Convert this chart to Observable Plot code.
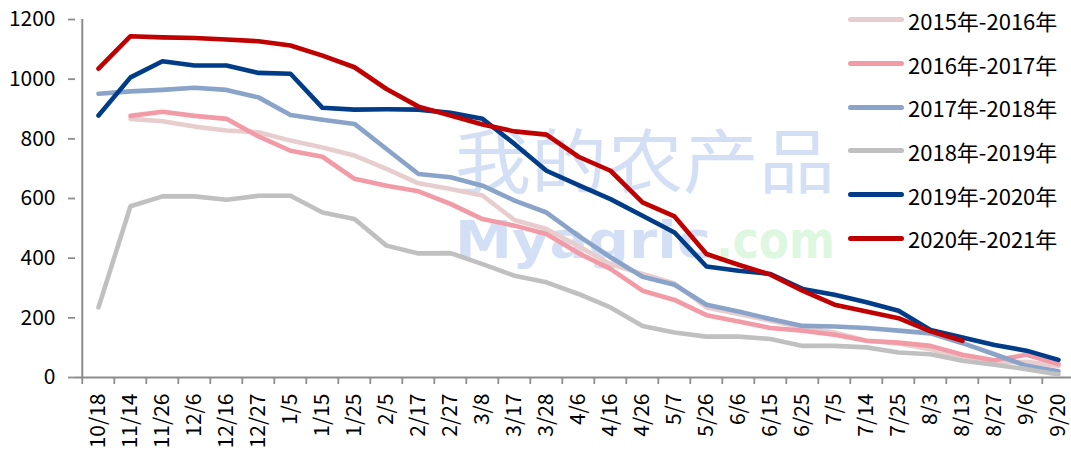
<!DOCTYPE html>
<html>
<head>
<meta charset="utf-8">
<script src="https://cdn.jsdelivr.net/npm/d3@7"></script>
<script src="https://cdn.jsdelivr.net/npm/@observablehq/plot@0.6"></script>
<style>
  html, body { margin: 0; padding: 0; background: #fff; overflow: hidden; }
  #wrap { position: relative; width: 1071px; height: 452px; }
  #wm { position: absolute; left: 0; top: 0; z-index: 0; }
  #chart { position: absolute; left: 0; top: 0; z-index: 1; }
  #legend { position: absolute; left: 848px; top: -2px; z-index: 2;
    font-family: "Noto Sans CJK SC", sans-serif; font-size: 22px; color: #000; }
  .row { height: 43.7px; display: flex; align-items: center; }
  .sw { width: 56px; height: 5px; border-radius: 3px; margin-right: 4px; }
</style>
</head>
<body>
<div id="wrap">
  <svg id="wm" width="1071" height="452">
    <text x="455" y="188" textLength="380" lengthAdjust="spacingAndGlyphs"
      font-family="Noto Sans CJK SC" font-weight="400" font-size="70" fill="#d2dff5">我的农产品</text>
    <text x="455" y="258" textLength="256" lengthAdjust="spacingAndGlyphs"
      font-family="DejaVu Sans" font-weight="700" font-size="52" fill="#d2dff5">Myagric</text>
    <text x="716" y="258" textLength="119" lengthAdjust="spacingAndGlyphs"
      font-family="DejaVu Sans" font-weight="700" font-size="52" fill="#ddf7e0">.com</text>
  </svg>
  <div id="chart"></div>
  <div id="legend"></div>
</div>
<script>
const categories = ["10/18","11/14","11/26","12/6","12/16","12/27","1/5","1/15","1/25","2/5","2/17","2/27","3/8","3/17","3/28","4/6","4/16","4/26","5/7","5/26","6/6","6/15","6/25","7/5","7/14","7/25","8/3","8/13","8/27","9/6","9/20"];

const seriesNames = ["2015年-2016年","2016年-2017年","2017年-2018年","2018年-2019年","2019年-2020年","2020年-2021年"];
const seriesColors = ["#e8cdce","#f29aa5","#8aa3c9","#c0c0c0","#003c88","#c00000"];

const s2015 = [null, 867, 859, 841, 828, 822, 794, 771, 744, 699, 651, 632, 610, 528, 498, 440, 380, 347, 315, 235, 213, 190, 168, 151, 123, 114, 95, 62, 50, 53, 39];
const s2016 = [null, 877, 891, 877, 867, 808, 760, 740, 666, 643, 624, 582, 531, 509, 481, 417, 364, 291, 260, 209, 188, 166, 157, 143, 123, 117, 106, 76, 58, 76, 45];
const s2017 = [951, 959, 964, 971, 964, 939, 880, 864, 850, 766, 682, 671, 643, 593, 553, 475, 403, 338, 311, 244, 221, 196, 173, 171, 166, 157, 148, 115, 78, 39, 21];
const s2018 = [235, 574, 607, 607, 596, 609, 609, 553, 531, 442, 416, 417, 380, 341, 319, 280, 235, 173, 151, 137, 137, 129, 106, 106, 101, 84, 78, 56, 43, 28, 10];
const s2019 = [878, 1006, 1060, 1046, 1046, 1021, 1018, 904, 898, 899, 898, 887, 867, 783, 693, 645, 598, 542, 486, 372, 358, 347, 297, 277, 252, 224, 159, 134, 109, 90, 59];
const s2020 = [1035, 1144, 1140, 1138, 1133, 1127, 1113, 1079, 1040, 967, 908, 878, 848, 825, 814, 740, 693, 587, 540, 414, 378, 345, 291, 244, 221, 199, 155, 123, null, null, null];

const yTicks = [0, 200, 400, 600, 800, 1000, 1200];

const allSeries = [s2015, s2016, s2017, s2018, s2019, s2020];
const data = [];
allSeries.forEach((vals, k) => {
  vals.forEach((v, i) => {
    if (v != null) data.push({date: categories[i], value: v, series: seriesNames[k]});
  });
});

const W = 1071, H = 452;
const mL = 75, mR = -9, mT = 19, mB = 75;
const step = (W - mR - mL) / categories.length;
const axisColor = "#8c8c8c";

const chart = Plot.plot({
  width: W, height: H,
  marginLeft: mL, marginRight: mR, marginTop: mT, marginBottom: mB,
  style: {background: "transparent", fontFamily: "'Noto Sans CJK SC', sans-serif", fontSize: "21px", color: "#000", overflow: "visible"},
  x: {type: "point", domain: categories, padding: 0.5, axis: null, label: null},
  y: {domain: [0, 1200], axis: null, label: null},
  color: {domain: seriesNames, range: seriesColors},
  marks: [
    Plot.axisY({ticks: yTicks, tickSize: 7, tickPadding: 13, stroke: axisColor, strokeWidth: 1.8,
      tickFormat: d => String(d), label: null, fontSize: 21}),
    Plot.axisX({ticks: categories, tickSize: 0, tickPadding: 16, tickRotate: -90, label: null, fontSize: 21}),
    Plot.axisX({ticks: categories, tickSize: 7, tickFormat: () => "", dx: -step / 2,
      stroke: axisColor, strokeWidth: 1.8, label: null}),
    Plot.ruleX([categories[0]], {dx: -step / 2, stroke: axisColor, strokeWidth: 2}),
    Plot.ruleY([0], {stroke: axisColor, strokeWidth: 2}),
    Plot.line(data, {x: "date", y: "value", z: "series", stroke: "series",
      strokeWidth: 4.6, strokeLinecap: "round", strokeLinejoin: "round"})
  ]
});
document.getElementById("chart").appendChild(chart);

const legend = document.getElementById("legend");
seriesNames.forEach((name, k) => {
  const row = document.createElement("div");
  row.className = "row";
  const sw = document.createElement("span");
  sw.className = "sw";
  sw.style.background = seriesColors[k];
  const t = document.createElement("span");
  t.textContent = name;
  row.appendChild(sw);
  row.appendChild(t);
  legend.appendChild(row);
});
</script>
</body>
</html>
